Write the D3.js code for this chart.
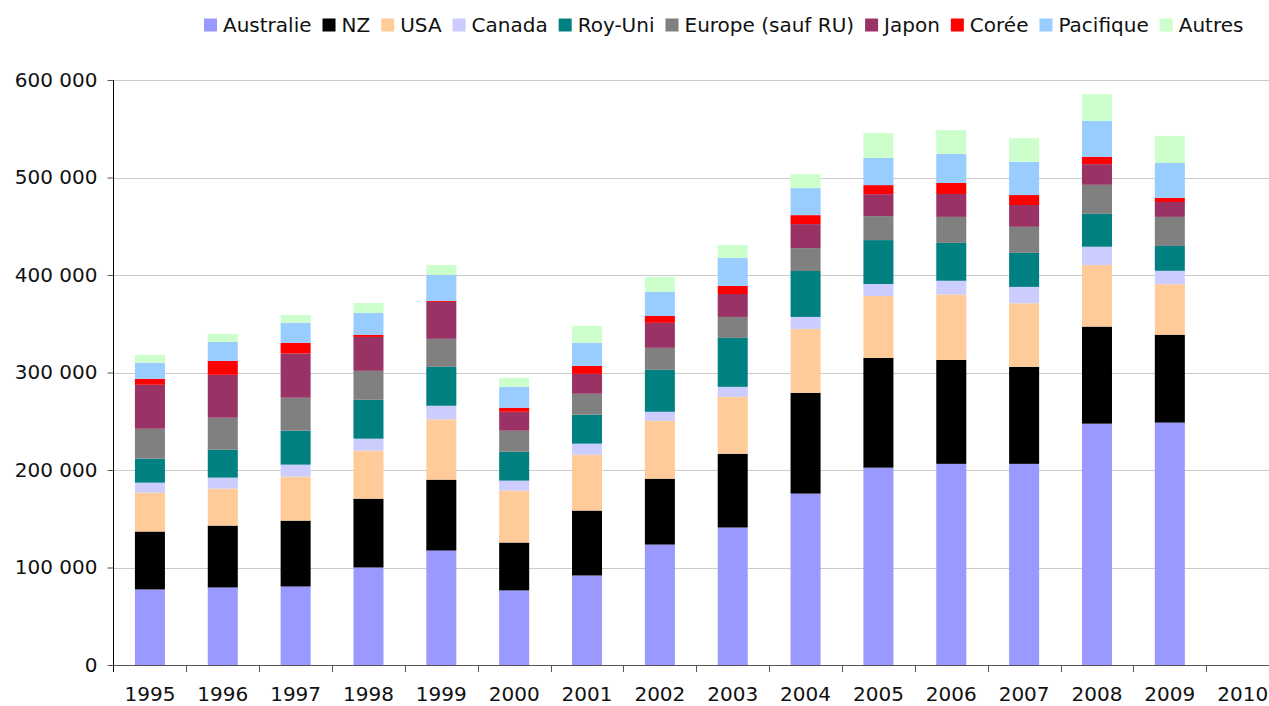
<!DOCTYPE html>
<html>
<head>
<meta charset="utf-8">
<script src="https://cdn.jsdelivr.net/npm/d3@7"></script>
<style>
  html, body { margin: 0; padding: 0; background: #fff; }
  svg { display: block; font-family: "DejaVu Sans", Verdana, sans-serif; }
</style>
</head>
<body>
<svg id="chart" width="1269" height="706"></svg>
<script>
// Years on the category axis (2010 has no data yet)
const years = ["1995","1996","1997","1998","1999","2000","2001","2002","2003","2004","2005","2006","2007","2008","2009","2010"];

// Series, one value per year
const australie = [77500, 79500, 80500, 100000, 117400, 76500, 91800, 123500, 141000, 175800, 202400, 206300, 206300, 247500, 248600, null];
const nz        = [59400, 63500, 67600, 70600, 72700, 49100, 66600, 67600, 75700, 103400, 112600, 106600, 99600, 99600, 90200, null];
const usa       = [39900, 37900, 45100, 49200, 61800, 53200, 57300, 59400, 58400, 65500, 63500, 67100, 65100, 63100, 51800, null];
const canada    = [10200, 11300, 12300, 12300, 14000, 10300, 11300, 9200, 10200, 12300, 12300, 14100, 16800, 18800, 13700, null];
const royUni    = [24600, 28600, 34800, 39900, 39900, 29700, 29700, 43000, 50200, 47100, 45000, 38800, 34900, 33700, 25500, null];
const europe    = [30700, 32800, 33800, 29700, 28700, 21500, 21500, 22600, 21500, 23500, 24600, 26700, 26700, 29800, 29800, null];
const japon     = [45100, 44000, 45400, 34800, 37900, 19400, 20400, 25600, 23500, 24600, 22500, 23500, 22400, 21200, 15300, null];
const coree     = [6100, 14300, 10900, 2100, 1000, 4100, 8200, 7100, 8200, 9200, 9300, 11400, 10200, 7500, 4300, null];
const pacifique = [16400, 19500, 20500, 22500, 26600, 21500, 23600, 24600, 28700, 27700, 27800, 29800, 34100, 36800, 35700, null];
const autres    = [8200, 8200, 8100, 10200, 10200, 9200, 17400, 15400, 13300, 14300, 25600, 24300, 24300, 27500, 27800, null];

const seriesNames = ["Australie", "NZ", "USA", "Canada", "Roy-Uni", "Europe (sauf RU)", "Japon", "Corée", "Pacifique", "Autres"];
const seriesValues = [australie, nz, usa, canada, royUni, europe, japon, coree, pacifique, autres];
const seriesColors = ["#9999ff", "#000000", "#ffcc99", "#ccccff", "#008080", "#808080", "#993366", "#ff0000", "#99ccff", "#ccffcc"];

const yTicks = [0, 100000, 200000, 300000, 400000, 500000, 600000];

// Rows for d3.stack
const rows = years.map((yr, i) => {
  const r = { year: yr };
  seriesNames.forEach((n, k) => { r[n] = seriesValues[k][i]; });
  return r;
});

const svg = d3.select("#chart");
const plotLeft = 113.5, plotTop = 80, plotBottom = 665;
const step = 72.85;
const plotRight = plotLeft + step * years.length;

const x = d3.scaleBand().domain(years).range([plotLeft, plotRight]).paddingInner(0.588).paddingOuter(0.294);
const y = d3.scaleLinear().domain([0, 600000]).range([plotBottom, plotTop]);

const fmt = d3.formatLocale({ decimal: ",", thousands: "\u00a0", grouping: [3], currency: ["", " €"] }).format(",d");

// Horizontal gridlines
svg.append("g")
  .selectAll("line")
  .data(yTicks.filter(v => v > 0))
  .join("line")
  .attr("x1", plotLeft).attr("x2", plotRight)
  .attr("y1", d => Math.round(y(d)) + 0.5).attr("y2", d => Math.round(y(d)) + 0.5)
  .attr("stroke", "#cbcbcb").attr("stroke-width", 1.2);

// Stacked bars
const stack = d3.stack().keys(seriesNames).value((d, k) => d[k] || 0);
const layers = stack(rows);

svg.append("g")
  .selectAll("g")
  .data(layers)
  .join("g")
  .attr("fill", (d, i) => seriesColors[i])
  .selectAll("rect")
  .data(d => d.filter(p => p[1] - p[0] > 0))
  .join("rect")
  .attr("x", d => x(d.data.year))
  .attr("width", x.bandwidth())
  .attr("y", d => y(d[1]))
  .attr("height", d => y(d[0]) - y(d[1]));

// Y axis
const yAxis = d3.axisLeft(y).tickValues(yTicks).tickFormat(fmt).tickSize(6).tickPadding(10);
const gy = svg.append("g").attr("transform", `translate(${plotLeft},0)`).call(yAxis);
gy.select(".domain").remove();
gy.selectAll(".tick line").attr("stroke", "#555");
gy.selectAll(".tick text")
  .attr("font-size", 20).attr("fill", "#111")
  .attr("font-family", "'DejaVu Sans', Verdana, sans-serif");
svg.append("line")
  .attr("x1", plotLeft).attr("x2", plotLeft)
  .attr("y1", y(600000)).attr("y2", plotBottom + 7)
  .attr("stroke", "#000").attr("stroke-width", 1);

// X axis: baseline, category boundary ticks and year labels
const xCat = d3.scaleBand().domain(years).range([plotLeft, plotRight]);
svg.append("line")
  .attr("x1", plotLeft).attr("x2", plotRight)
  .attr("y1", plotBottom + 0.5).attr("y2", plotBottom + 0.5)
  .attr("stroke", "#555").attr("stroke-width", 1.2);
svg.append("g")
  .selectAll("line")
  .data(years)
  .join("line")
  .attr("x1", d => Math.round(xCat(d) + xCat.step()) + 0.5)
  .attr("x2", d => Math.round(xCat(d) + xCat.step()) + 0.5)
  .attr("y1", plotBottom).attr("y2", plotBottom + 7)
  .attr("stroke", "#555");
svg.append("g")
  .selectAll("text")
  .data(years)
  .join("text")
  .attr("x", d => xCat(d) + xCat.bandwidth() / 2)
  .attr("y", 701)
  .attr("text-anchor", "middle")
  .attr("font-size", 20).attr("fill", "#111")
  .text(d => d);

// Legend across the top
const legend = svg.append("g");
let lx = 204;
seriesNames.forEach((name, i) => {
  legend.append("rect")
    .attr("x", lx).attr("y", 18.5)
    .attr("width", 13).attr("height", 13)
    .attr("fill", seriesColors[i]);
  const t = legend.append("text")
    .attr("x", lx + 19).attr("y", 32)
    .attr("font-size", 20).attr("fill", "#111")
    .text(name);
  lx += 19 + t.node().getComputedTextLength() + 11;
});
</script>
</body>
</html>
